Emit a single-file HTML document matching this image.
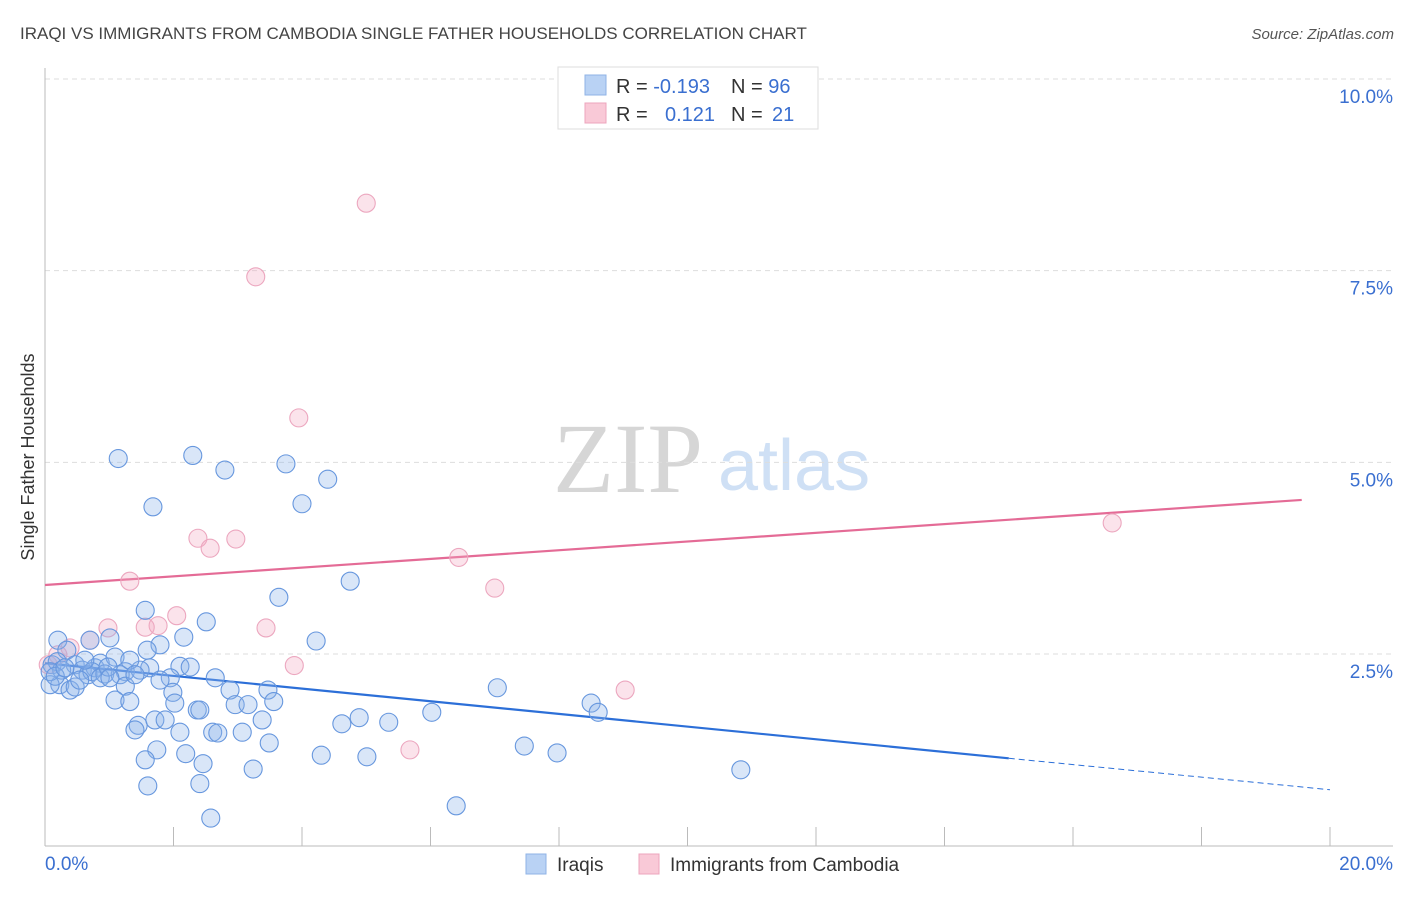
<!DOCTYPE html>
<html><head><meta charset="utf-8"><style>
body{margin:0;background:#fff;font-family:"Liberation Sans",sans-serif;}
svg text{font-family:"Liberation Sans",sans-serif;}
svg text.serif{font-family:"Liberation Serif",serif;}
</style></head><body>
<svg id="chart" width="1406" height="892" viewBox="0 0 1406 892" xmlns="http://www.w3.org/2000/svg">
<text x="20" y="39" font-size="17" fill="#444">IRAQI VS IMMIGRANTS FROM CAMBODIA SINGLE FATHER HOUSEHOLDS CORRELATION CHART</text>
<text x="1394" y="39" font-size="15" fill="#555" text-anchor="end" font-style="italic">Source: ZipAtlas.com</text>
<g>
<text class="serif" x="553" y="492" font-size="100" fill="#d6d6d6">ZIP</text>
<text x="718" y="490" font-size="72" fill="#cfe0f5">atlas</text>
</g>
<g id="grid"></g>
<g id="axes"></g>
<text transform="translate(34,457) rotate(-90)" font-size="18" fill="#333" text-anchor="middle">Single Father Households</text>
<g id="trend"></g>
<g id="points"></g>
<g>
<rect x="558" y="67" width="260" height="62" fill="#fff" stroke="#ddd"/>
<rect x="585" y="75" width="21" height="20" fill="#b9d2f4" stroke="#8fb3e6"/>
<rect x="585" y="103" width="21" height="20" fill="#f9c9d7" stroke="#eda5bc"/>
<text x="616" y="93" font-size="20" fill="#333">R = <tspan fill="#3a6fd0">-0.193</tspan><tspan x="731">N = </tspan><tspan fill="#3a6fd0">96</tspan></text>
<text x="616" y="121" font-size="20" fill="#333">R = <tspan x="665" fill="#3a6fd0">0.121</tspan><tspan x="731">N = </tspan><tspan x="772" fill="#3a6fd0">21</tspan></text>
</g>
<g>
<rect x="526" y="854" width="20" height="20" fill="#b9d2f4" stroke="#8fb3e6"/>
<text x="557" y="871" font-size="19" fill="#333">Iraqis</text>
<rect x="639" y="854" width="20" height="20" fill="#f9c9d7" stroke="#eda5bc"/>
<text x="670" y="871" font-size="19" fill="#333">Immigrants from Cambodia</text>
</g>
</svg>
<script>
const blueX=[1.14,2.30,2.80,3.75,4.40,1.68,4.00,4.75,3.64,1.56,2.51,2.16,4.22,1.79,1.59,0.20,0.70,1.01,0.34,0.11,0.19,0.47,0.58,0.78,0.86,1.09,1.25,1.63,2.10,2.26,2.65,0.67,0.73,0.93,1.17,0.23,0.39,0.47,0.08,1.25,1.95,1.99,3.47,7.04,8.50,8.61,6.02,1.09,1.32,2.02,2.37,2.41,3.56,1.45,1.40,1.71,1.87,2.10,2.61,2.69,3.07,4.89,5.35,4.62,3.49,1.74,2.19,2.46,4.30,5.01,7.46,7.97,3.24,10.83,1.60,2.41,6.40,2.58,0.26,0.86,0.62,0.98,1.48,1.01,0.54,0.08,0.16,0.31,1.32,1.40,1.79,2.88,2.96,3.16,3.38,1.56];
const blueY=[5.05,5.09,4.90,4.98,4.78,4.42,4.46,3.45,3.24,3.07,2.92,2.72,2.67,2.62,2.55,2.68,2.68,2.71,2.55,2.36,2.40,2.36,2.29,2.32,2.38,2.46,2.27,2.32,2.34,2.33,2.19,2.23,2.27,2.24,2.23,2.10,2.03,2.07,2.10,2.08,2.19,2.00,2.03,2.06,1.86,1.74,1.74,1.90,1.88,1.86,1.77,1.77,1.88,1.57,1.51,1.64,1.64,1.48,1.48,1.47,1.48,1.67,1.61,1.59,1.34,1.25,1.20,1.07,1.18,1.16,1.30,1.21,1.00,0.99,0.78,0.81,0.52,0.36,2.29,2.19,2.42,2.33,2.29,2.19,2.16,2.27,2.21,2.32,2.42,2.23,2.16,2.03,1.84,1.84,1.64,1.12];
const pinkX=[5.00,3.28,3.95,2.38,2.57,2.97,1.32,6.44,7.00,2.05,3.44,0.98,1.76,1.56,0.70,0.39,0.20,3.88,9.03,5.68,16.61,0.05];
const pinkY=[8.38,7.42,5.58,4.01,3.88,4.00,3.45,3.76,3.36,3.00,2.84,2.84,2.87,2.85,2.68,2.58,2.49,2.35,2.03,1.25,4.21,2.36];
const yTicks=[2.5,5.0,7.5,10.0];
const yTickLabels=["2.5%","5.0%","7.5%","10.0%"];
const xTicks=[2,4,6,8,10,12,14,16,18,20];
const blueTrend=[2.38,1.14,0.73];
const blueTrendX=[0,15,20];
const pinkTrend=[3.40,4.51];
const pinkTrendX=[0,19.56];
const NS="http://www.w3.org/2000/svg";
const sx=v=>45+v*64.25, sy=v=>845.7-v*76.67;
function mk(tag,attrs,parent){const e=document.createElementNS(NS,tag);for(const k in attrs)e.setAttribute(k,attrs[k]);parent.appendChild(e);return e;}
const grid=document.getElementById('grid'),axes=document.getElementById('axes'),trend=document.getElementById('trend'),pts=document.getElementById('points');
yTicks.forEach((t,i)=>{
 const l=mk('line',{x1:45,x2:1393,y1:sy(t),y2:sy(t),stroke:'#ddd','stroke-dasharray':'5,4'},grid);
 
 
 const tx=mk('text',{x:1393,y:sy(t)+24,'font-size':19,fill:'#3a6fd0','text-anchor':'end'},grid);
 tx.textContent=yTickLabels[i];
 
 
});
const al=mk('line',{x1:45,x2:45,y1:68,y2:846,stroke:'#bbb'},axes);


const bl=mk('line',{x1:45,x2:1393,y1:846,y2:846,stroke:'#bbb'},axes);


xTicks.forEach(t=>{
 const l=mk('line',{x1:sx(t),x2:sx(t),y1:827,y2:846,stroke:'#bbb'},axes);
 
 
});
const x0=mk('text',{x:45,y:870,'font-size':19,fill:'#3a6fd0'},axes);x0.textContent='0.0%';


const x1=mk('text',{x:1393,y:870,'font-size':19,fill:'#3a6fd0','text-anchor':'end'},axes);x1.textContent='20.0%';


function dot(x,y,fill,stroke,name){const c=mk('circle',{cx:sx(x),cy:sy(y),r:9,fill:fill,stroke:stroke,'stroke-width':1.1},pts);
 
 }
pinkX.forEach((x,i)=>dot(x,pinkY[i],'rgba(244,168,194,0.32)','#eca7bf','cambodia-point'));
blueX.forEach((x,i)=>dot(x,blueY[i],'rgba(140,180,235,0.33)','#6797de','iraqi-point'));
const bt1=mk('line',{x1:sx(blueTrendX[0]),y1:sy(blueTrend[0]),x2:sx(blueTrendX[1]),y2:sy(blueTrend[1]),stroke:'#2c6fd8','stroke-width':2.2},trend);


const bt2=mk('line',{x1:sx(blueTrendX[1]),y1:sy(blueTrend[1]),x2:sx(blueTrendX[2]),y2:sy(blueTrend[2]),stroke:'#2c6fd8','stroke-width':1,'stroke-dasharray':'6,4'},trend);


const pt=mk('line',{x1:sx(pinkTrendX[0]),y1:sy(pinkTrend[0]),x2:sx(pinkTrendX[1]),y2:sy(pinkTrend[1]),stroke:'#e46b96','stroke-width':2.2},trend);


</script>
</body></html>
